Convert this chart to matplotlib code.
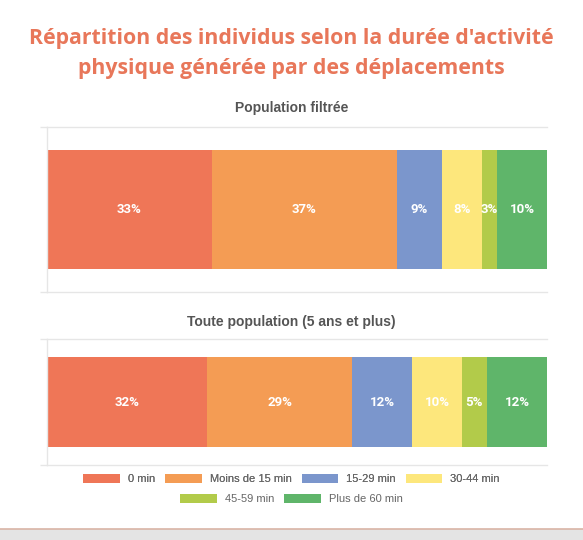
import matplotlib
matplotlib.use("Agg")
import matplotlib.pyplot as plt
from matplotlib.patches import Rectangle
from matplotlib.lines import Line2D

categories = ["0 min", "Moins de 15 min", "15-29 min", "30-44 min", "45-59 min", "Plus de 60 min"]
colors = ["#EF7657", "#F49C54", "#7B96CC", "#FDE77C", "#B2CB4A", "#5FB56A"]
panel_titles = ["Population filtrée", "Toute population (5 ans et plus)"]
values_filtree = [33, 37, 9, 8, 3, 10]
values_toute = [32, 29, 12, 10, 5, 12]
series = [values_filtree, values_toute]

plt.rcParams['font.family'] = ['Liberation Sans', 'DejaVu Sans']

W, H = 583, 540
fig = plt.figure(figsize=(W / 100, H / 100), dpi=100)
fig.patch.set_facecolor("white")

def fx(px):
    return px / W

def fy(py):
    return 1 - py / H

# Title
title_kw = dict(ha="center", va="baseline", fontsize=15.3, color="#E8775A",
                family=["Open Sans", "DejaVu Sans"], fontweight="bold")
fig.text(0.5, fy(44), "Répartition des individus selon la durée d'activité", **title_kw)
fig.text(0.5, fy(74), "physique générée par des déplacements", **title_kw)

axes_px = [(127, 292, 0.72, 108), (339, 465, 0.714, 322)]
grid_col = "#E6E6E6"
for (top, bot, bh, ty), vals, ttl in zip(axes_px, series, panel_titles):
    ax = fig.add_axes([fx(47), fy(bot), fx(547) - fx(47), fy(top) - fy(bot)])
    left = 0
    for v, c in zip(vals, colors):
        ax.barh(0, v, left=left, height=bh, color=c, edgecolor="none")
        ax.text(left + v / 2, 0, f"{v}%", ha="center", va="center",
                color="white", fontsize=9.5, fontweight="bold",
                family=["Roboto", "DejaVu Sans"])
        left += v
    ax.set_xlim(0, 100)
    ax.set_ylim(-0.5, 0.5)
    ax.set_xticks([])
    ax.set_yticks([-0.5, 0.5])
    ax.set_yticklabels([])
    ax.tick_params(axis="y", length=5, color=grid_col, width=1)
    ax.spines["right"].set_visible(False)
    for s in ["left", "top", "bottom"]:
        ax.spines[s].set_color(grid_col)
        ax.spines[s].set_linewidth(1)
    fig.text(0.5, fy(ty), ttl, ha="center", va="center", fontsize=10,
             color="#555555", fontweight="bold")

# Legend
handles = [Rectangle((0, 0), 1, 1, facecolor=c, edgecolor="none") for c in colors]
leg_kw = dict(loc="center", frameon=False, fontsize=8, handlelength=3.3, handleheight=0.95,
              columnspacing=0.9, handletextpad=0.7, labelcolor="#666666")
leg1 = fig.legend(handles[:4], categories[:4], bbox_to_anchor=(0.5, fy(479)), ncol=4, **leg_kw)
leg2 = fig.legend(handles[4:], categories[4:], bbox_to_anchor=(0.5, fy(499)), ncol=2, **leg_kw)
fig.add_artist(leg1)

# Card bottom edge
fig.add_artist(Rectangle((0, 0), 1, fy(529), transform=fig.transFigure,
                         facecolor="#E4E4E4", edgecolor="none"))
fig.add_artist(Line2D([0, 1], [fy(529), fy(529)], transform=fig.transFigure,
                      color="#D9B4A6", linewidth=1.2))

fig.savefig("out.png", dpi=100)
